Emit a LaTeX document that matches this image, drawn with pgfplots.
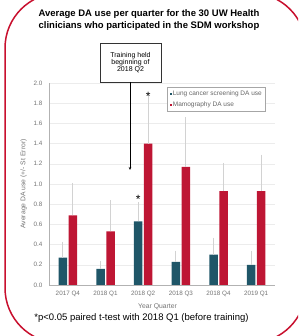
\documentclass[border=0pt]{standalone}
\usepackage{pgfplots}
\pgfplotsset{compat=1.18}
\usepackage{pgfplotstable}
\usepackage{fontspec}
\setmainfont{Liberation Sans}
\usetikzlibrary{arrows.meta}
\definecolor{tealbar}{RGB}{31,86,104}
\definecolor{redbar}{RGB}{190,22,52}
\definecolor{framec}{RGB}{200,16,46}
\pgfplotstableread{
x lung lunge mam mame
0 0.27 0.16 0.69 0.32
1 0.16 0.08 0.53 0.31
2 0.63 0.19 1.40 0.48
3 0.23 0.11 1.17 0.49
4 0.30 0.17 0.93 0.28
5 0.20 0.14 0.93 0.36
}\datatab
\begin{document}
\begin{tikzpicture}[x=1pt,y=1pt]
\useasboundingbox (0,0) rectangle (298,336);
\begin{scope}
\clip (0,0) rectangle (298,336);
\draw[framec, line width=1.5pt, rounded corners=55pt] (5,343) rectangle (306,-7);
\end{scope}
\node[font=\bfseries\fontsize{9.5}{12}\selectfont, align=center] at (149,316) {Average DA use per quarter for the 30 UW Health\\clinicians who participated in the SDM workshop};
\node[font=\fontsize{9.5}{11}\selectfont] at (141.5,18) {*p<0.05 paired t-test with 2018 Q1 (before training)};
\begin{axis}[at={(49pt,51pt)}, anchor=south west, scale only axis,
 width=226pt, height=202pt, clip=false,
 xmin=-0.5, xmax=5.5, ymin=0, ymax=2,
 ybar=1.5pt, bar width=8.5pt,
 xtick={0,1,2,3,4,5},
 xticklabels={2017 Q4,2018 Q1,2018 Q2,2018 Q3,2018 Q4,2019 Q1},
 ytick={0,0.2,0.4,0.6,0.8,1.0,1.2,1.4,1.6,1.8,2.0},
 ymajorgrids, grid style={gray!15, line width=0.5pt},
 axis x line*=bottom, axis y line*=left,
 axis line style={gray!60, -},
 major tick length=0pt,
 tick label style={font=\fontsize{6.3}{7}\selectfont, text=gray!90!black},
 xticklabel style={yshift=-3pt},
 yticklabel style={xshift=-3pt, /pgf/number format/.cd, fixed, fixed zerofill, precision=1},
 /pgf/number format/assume math mode=true,
 xlabel={Year Quarter}, ylabel={Average DA use (+/- St Error)},
 label style={font=\fontsize{6.8}{8}\selectfont, text=gray!90!black},
 xlabel style={at={(rel axis cs:0.48,0)}, anchor=center, yshift=-22pt},
 legend style={at={(rel axis cs:0.522,0.98)}, anchor=north west, draw=gray!70,
   font=\fontsize{6.5}{7}\selectfont, text=gray!80!black, row sep=3pt,
   inner xsep=2.5pt, inner ysep=2.5pt,
   nodes={inner sep=1pt}},
 legend cell align=left,
]
\addplot[fill=tealbar, draw=none,
  legend image code/.code={\fill[tealbar] (0pt,-1.1pt) rectangle (2.2pt,1.1pt);},
  error bars/.cd, y dir=plus, y explicit, error mark=none,
  error bar style={gray!35, line width=0.9pt}]
  table[x=x, y=lung, y error=lunge] {\datatab};
\addlegendentry{Lung cancer screening DA use}
\addplot[fill=redbar, draw=none,
  legend image code/.code={\fill[redbar] (0pt,-1.1pt) rectangle (2.2pt,1.1pt);},
  error bars/.cd, y dir=plus, y explicit, error mark=none,
  error bar style={gray!35, line width=0.9pt}]
  table[x=x, y=mam, y error=mame] {\datatab};
\addlegendentry{Mamography DA use}
\node[font=\fontsize{12}{12}\selectfont, anchor=base, xshift=5pt] at (axis cs:2,1.83) {*};
\node[font=\fontsize{12}{12}\selectfont, anchor=base, xshift=-5pt] at (axis cs:2,0.81) {*};
\end{axis}
\node[draw=black!80, line width=0.5pt, minimum width=61pt, minimum height=39pt,
  align=center, font=\fontsize{7}{7.3}\selectfont, inner sep=0pt, fill=white] at (130.5,273.5)
  {Training held\\beginning of\\2018 Q2};
\draw[-{Stealth[length=3pt,width=2.5pt]}, line width=0.6pt] (130,254) -- (130,166);
\end{tikzpicture}
\end{document}
